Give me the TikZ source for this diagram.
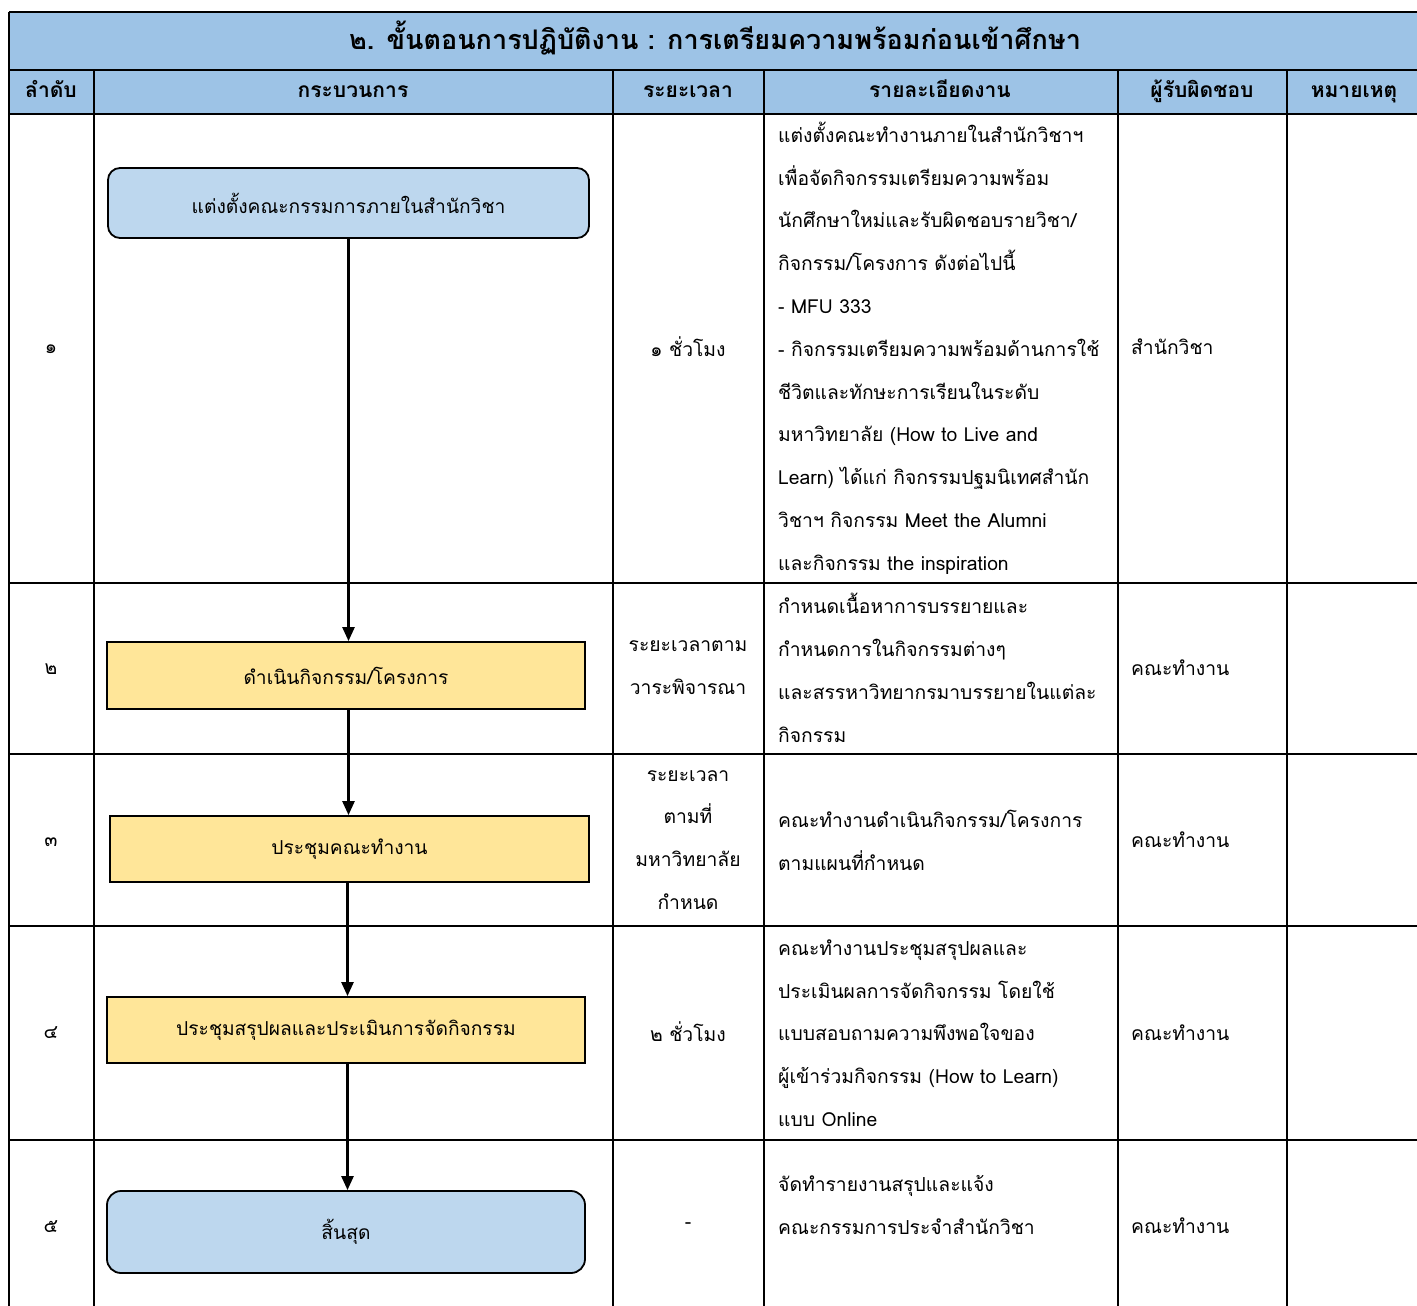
\documentclass[tikz,border=0pt]{standalone}
\usepackage{fontspec}
\newfontfamily\thai[Script=Thai]{Loma}
\usetikzlibrary{arrows.meta}
\definecolor{hdrblue}{HTML}{9DC3E6}
\definecolor{boxblue}{HTML}{BDD7EE}
\definecolor{boxyellow}{HTML}{FFE699}
\tikzset{
  grid/.style={line width=2.5pt, black},
  titletext/.style={font=\thai\bfseries\fontsize{27}{30}\selectfont, inner sep=0pt, anchor=base},
  hdrtext/.style={font=\thai\bfseries\fontsize{21}{24}\selectfont, inner sep=0pt, anchor=base},
  body/.style={font=\thai\fontsize{19.3}{42.8}\selectfont, align=left, inner sep=0pt},
  bodyc/.style={font=\thai\fontsize{19.3}{42.8}\selectfont, align=center, inner sep=0pt},
  flowbox/.style={draw, line width=1.8pt, font=\thai\fontsize{19.2}{24}\selectfont, inner sep=0pt},
  termbox/.style={flowbox, fill=boxblue, rounded corners=12pt},
  procbox/.style={flowbox, fill=boxyellow},
  flow/.style={line width=2.5pt, -{Triangle[length=14pt,width=12pt]}}
}
\begin{document}
\begin{tikzpicture}[x=1pt,y=-1pt]
\useasboundingbox (0,0) rectangle (1417,1306);
\clip (0,0) rectangle (1417,1306);
% header fill
\fill[hdrblue] (9,12) rectangle (1420,114);
% grid lines
\foreach \yy in {12,70,114,583,754,926,1140}
  \draw[grid] (9,\yy) -- (1420,\yy);
\draw[grid] (9,12) -- (9,1310);
\foreach \xx in {94,613,764,1118,1287}
  \draw[grid] (\xx,70) -- (\xx,1310);
% title and headers
\node[titletext] (title) at (715,50) {๒. ขั้นตอนการปฏิบัติงาน : การเตรียมความพร้อมก่อนเข้าศึกษา};
\node[hdrtext] (h1) at (51,98) {ลำดับ};
\node[hdrtext] (h2) at (353,98) {กระบวนการ};
\node[hdrtext] (h3) at (688,98) {ระยะเวลา};
\node[hdrtext] (h4) at (940,98) {รายละเอียดงาน};
\node[hdrtext] (h5) at (1202,98) {ผู้รับผิดชอบ};
\node[hdrtext] (h6) at (1354,98) {หมายเหตุ};
% row numbers
\node[bodyc] (n1) at (51,349) {๑};
\node[bodyc] (n2) at (51,669) {๒};
\node[bodyc] (n3) at (51,842) {๓};
\node[bodyc] (n4) at (51,1033) {๔};
\node[bodyc] (n5) at (51,1227) {๕};
% flow boxes
\node[termbox, minimum width=481pt, minimum height=70pt] (b1) at (348.5,203) {แต่งตั้งคณะกรรมการภายในสำนักวิชา};
\node[procbox, minimum width=478pt, minimum height=67pt] (b2) at (346,675.5) {ดำเนินกิจกรรม/โครงการ};
\node[procbox, minimum width=479pt, minimum height=66pt] (b3) at (349.5,849) {ประชุมคณะทำงาน};
\node[procbox, minimum width=478pt, minimum height=66pt] (b4) at (346,1030) {ประชุมสรุปผลและประเมินการจัดกิจกรรม};
\node[termbox, minimum width=478pt, minimum height=82pt, rounded corners=14pt] (b5) at (346,1232) {สิ้นสุด};
\draw[flow] (b1.south) -- (b1.south |- b2.north);
\draw[flow] (b1.south |- b2.south) -- (b1.south |- b3.north);
\draw[flow] ([xshift=1.5pt]b3.south -| b4.north) -- ([xshift=1.5pt]b4.north);
\draw[flow] ([xshift=1.5pt]b4.south) -- ([xshift=1.5pt]b5.north);
% durations
\node[bodyc] (d1) at (688,347) {๑ ชั่วโมง};
\node[bodyc] (d2) at (688,668) {ระยะเวลาตาม\\วาระพิจารณา};
\node[bodyc] (d3) at (688,840) {ระยะเวลา\\ตามที่\\มหาวิทยาลัย\\กำหนด};
\node[bodyc] (d4) at (688,1032) {๒ ชั่วโมง};
\node[bodyc] (d5) at (688,1226) {-};
% details
\node[body, anchor=west] (t1) at (778,348) {แต่งตั้งคณะทำงานภายในสำนักวิชาฯ\\เพื่อจัดกิจกรรมเตรียมความพร้อม\\นักศึกษาใหม่และรับผิดชอบรายวิชา/\\กิจกรรม/โครงการ ดังต่อไปนี้\\- MFU 333\\- กิจกรรมเตรียมความพร้อมด้านการใช้\\ชีวิตและทักษะการเรียนในระดับ\\มหาวิทยาลัย (How to Live and\\Learn) ได้แก่ กิจกรรมปฐมนิเทศสำนัก\\วิชาฯ กิจกรรม Meet the Alumni\\และกิจกรรม the inspiration};
\node[body, anchor=west] (t2) at (778,668) {กำหนดเนื้อหาการบรรยายและ\\กำหนดการในกิจกรรมต่างๆ\\และสรรหาวิทยากรมาบรรยายในแต่ละ\\กิจกรรม};
\node[body, anchor=west] (t3) at (778,840) {คณะทำงานดำเนินกิจกรรม/โครงการ\\ตามแผนที่กำหนด};
\node[body, anchor=west] (t4) at (778,1033) {คณะทำงานประชุมสรุปผลและ\\ประเมินผลการจัดกิจกรรม โดยใช้\\แบบสอบถามความพึงพอใจของ\\ผู้เข้าร่วมกิจกรรม (How to Learn)\\แบบ Online};
\node[body, anchor=west] (t5) at (778,1205) {จัดทำรายงานสรุปและแจ้ง\\คณะกรรมการประจำสำนักวิชา};
% responsible
\node[body, anchor=west] (r1) at (1131,347) {สำนักวิชา};
\node[body, anchor=west] (r2) at (1131,668) {คณะทำงาน};
\node[body, anchor=west] (r3) at (1131,840) {คณะทำงาน};
\node[body, anchor=west] (r4) at (1131,1033) {คณะทำงาน};
\node[body, anchor=west] (r5) at (1131,1226) {คณะทำงาน};
\end{tikzpicture}
\end{document}
